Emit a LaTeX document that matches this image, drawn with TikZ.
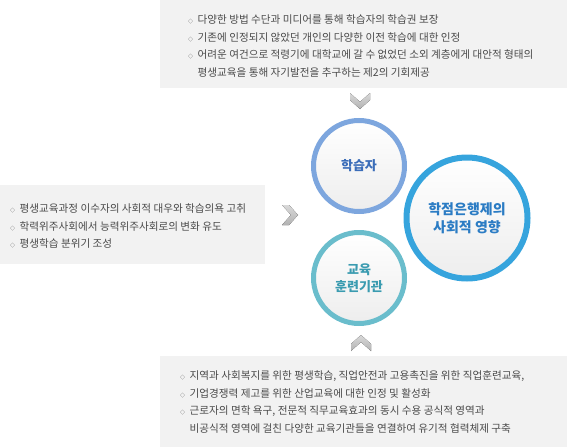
\documentclass[tikz,border=0pt]{standalone}
\usepackage{fontspec}
\setmainfont{Noto Sans CJK KR}
\usetikzlibrary{positioning,shadows}
\definecolor{boxgray}{HTML}{F2F2F2}
\definecolor{txtgray}{HTML}{4A4A4A}
\definecolor{learnblue}{HTML}{7DA6DE}
\definecolor{learntxt}{HTML}{3B6DB9}
\definecolor{instteal}{HTML}{6ABDCC}
\definecolor{insttxt}{HTML}{3A9BB0}
\definecolor{bigblue}{HTML}{36A4DD}
\definecolor{bigtxt}{HTML}{2B7CC4}
\newcommand{\itemmark}{{\fontsize{5}{5}\selectfont ◇}}
\tikzset{
  infobox/.style={fill=boxgray, draw=none, inner sep=0pt, anchor=north west},
  itemlist/.style={anchor=north west, inner sep=0pt, text=txtgray,
    font=\fontsize{10.6}{17.6}\selectfont, align=left},
  ring/.style={circle, line width=5pt, top color=white, bottom color=gray!14,
    align=center, font=\bfseries\fontsize{13}{17}\selectfont,
    drop shadow={shadow xshift=0pt, shadow yshift=-1.5pt, opacity=0.2}},
  chevron/.style={top color=gray!30, bottom color=gray!60, draw=none},
}

\begin{document}
\begin{tikzpicture}[x=1pt, y=-1pt]
  \useasboundingbox (0,0) rectangle (567,447);

  % grey panels
  \node[infobox, minimum width=407pt, minimum height=88pt] (topbox) at (160,0) {};
  \node[infobox, minimum width=265pt, minimum height=79pt] (leftbox) at (0,185) {};
  \node[infobox, minimum width=407pt, minimum height=91pt] (botbox) at (160,356) {};

  \node[itemlist] (toptext) at (188,11) {%
    \begin{tabular}{@{}l@{\hspace{4.5pt}}l@{}}
      \itemmark & 다양한 방법 수단과 미디어를 통해 학습자의 학습권 보장\\
      \itemmark & 기존에 인정되지 않았던 개인의 다양한 이전 학습에 대한 인정\\
      \itemmark & 어려운 여건으로 적령기에 대학교에 갈 수 없었던 소외 계층에게 대안적 형태의\\
                & 평생교육을 통해 자기발전을 추구하는 제2의 기회제공
    \end{tabular}};

  \node[itemlist] (lefttext) at (10,200) {%
    \begin{tabular}{@{}l@{\hspace{4.5pt}}l@{}}
      \itemmark & 평생교육과정 이수자의 사회적 대우와 학습의욕 고취\\
      \itemmark & 학력위주사회에서 능력위주사회로의 변화 유도\\
      \itemmark & 평생학습 분위기 조성
    \end{tabular}};

  \node[itemlist] (bottext) at (180,367) {%
    \begin{tabular}{@{}l@{\hspace{4.5pt}}l@{}}
      \itemmark & 지역과 사회복지를 위한 평생학습, 직업안전과 고용촉진을 위한 직업훈련교육,\\
      \itemmark & 기업경쟁력 제고를 위한 산업교육에 대한 인정 및 활성화\\
      \itemmark & 근로자의 면학 욕구, 전문적 직무교육효과의 동시 수용 공식적 영역과\\
                & 비공식적 영역에 걸친 다양한 교육기관들을 연결하여 유기적 협력체제 구축
    \end{tabular}};

  % circles
  \node[ring, draw=learnblue, text=learntxt, minimum size=91pt] (learner) at (359,166) {학습자};
  \node[ring, draw=instteal, text=insttxt, minimum size=91pt, below=16pt of learner] (inst) {교육\\훈련기관};
  \node[ring, draw=bigblue, text=bigtxt, line width=6pt, minimum size=121pt,
    font=\bfseries\fontsize{14}{18}\selectfont] (impact) at (467,218) {학점은행제의\\사회적 영향};

  % chevrons
  \coordinate (downarr) at (360,101);
  \coordinate (rightarr) at (290,215);
  \coordinate (uparr) at (361,343);
  \fill[chevron, shift={(downarr)}] (-10,-8) -- (0,1) -- (10,-8) -- (10,-1) -- (0,8) -- (-10,-1) -- cycle;
  \fill[chevron, shift={(rightarr)}] (-8,-10) -- (1,0) -- (-8,10) -- (-1,10) -- (8,0) -- (-1,-10) -- cycle;
  \fill[chevron, shift={(uparr)}] (-10,8) -- (0,-1) -- (10,8) -- (10,1) -- (0,-8) -- (-10,1) -- cycle;
\end{tikzpicture}
\end{document}
